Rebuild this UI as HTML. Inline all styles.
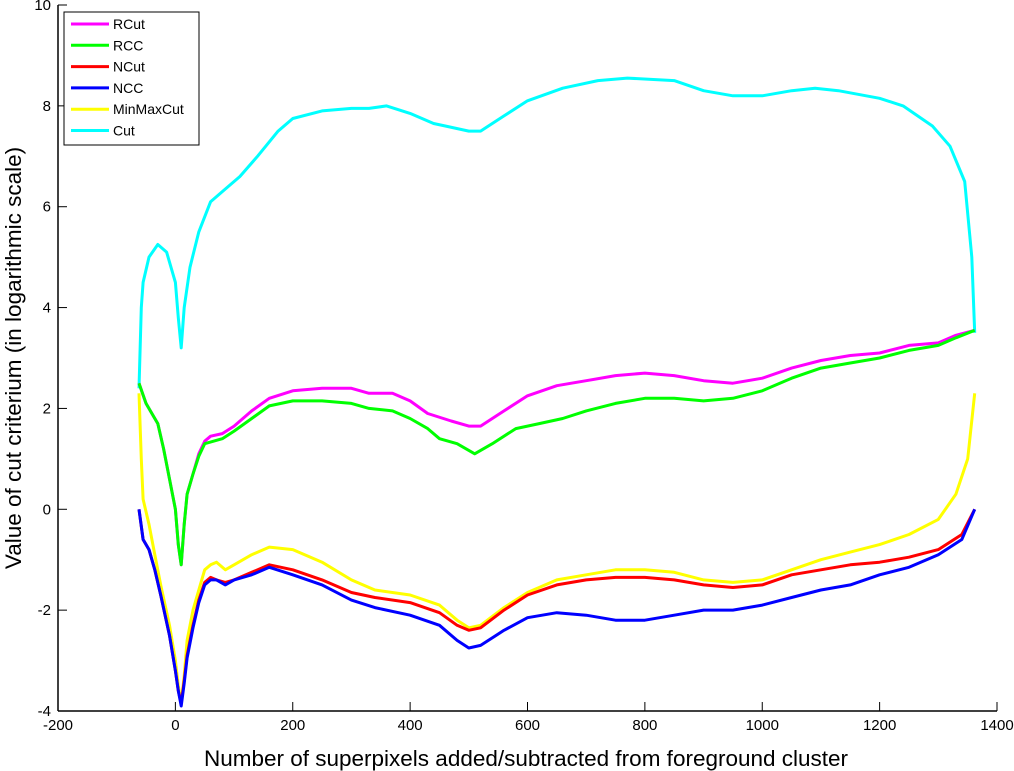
<!DOCTYPE html>
<html><head><meta charset="utf-8">
<style>
html,body{margin:0;padding:0;background:#fff;}
svg{display:block;font-family:"Liberation Sans",sans-serif;}
</style></head>
<body>
<svg id="chart" width="1014" height="771" viewBox="0 0 1014 771">
<g id="axes"></g>
<g id="series"></g>
<text x="526" y="766" font-size="22.5" text-anchor="middle">Number of superpixels added/subtracted from foreground cluster</text>
<text transform="translate(21,358) rotate(-90)" font-size="22.5" text-anchor="middle">Value of cut criterium (in logarithmic scale)</text>
<g id="legend"></g>
</svg>
<script>
const xTicks=[-200,0,200,400,600,800,1000,1200,1400];
const yTicks=[-4,-2,0,2,4,6,8,10];
const names=["RCut","RCC","NCut","NCC","MinMaxCut","Cut"];
const colors=["#ff00ff","#00ff00","#ff0000","#0000ff","#ffff00","#00ffff"];

const cutX=[-62,-58,-55,-45,-30,-15,0,5,10,15,25,40,60,80,110,140,175,200,250,300,330,360,400,440,460,500,520,560,600,660,720,770,850,900,950,1000,1050,1090,1130,1200,1240,1290,1320,1345,1357,1362];
const cutY=[2.4,4.0,4.5,5.0,5.25,5.1,4.5,3.8,3.2,4.0,4.8,5.5,6.1,6.3,6.6,7.0,7.5,7.75,7.9,7.95,7.95,8.0,7.85,7.65,7.6,7.5,7.5,7.8,8.1,8.35,8.5,8.55,8.5,8.3,8.2,8.2,8.3,8.35,8.3,8.15,8.0,7.6,7.2,6.5,5.0,3.5];

const rcutX=[-62,-50,-40,-30,-20,-10,0,5,10,15,20,30,40,50,60,80,100,130,160,200,250,300,330,370,400,430,470,500,520,560,600,650,700,750,800,850,900,950,1000,1050,1100,1150,1200,1250,1300,1330,1362];
const rcutY=[2.5,2.1,1.9,1.7,1.2,0.6,0.0,-0.7,-1.1,-0.3,0.3,0.7,1.1,1.35,1.45,1.5,1.65,1.95,2.2,2.35,2.4,2.4,2.3,2.3,2.15,1.9,1.75,1.65,1.65,1.95,2.25,2.45,2.55,2.65,2.7,2.65,2.55,2.5,2.6,2.8,2.95,3.05,3.1,3.25,3.3,3.45,3.55];

const rccX=[-62,-50,-40,-30,-20,-10,0,5,10,15,20,30,40,50,80,100,130,160,200,250,300,330,370,400,430,450,480,510,540,580,620,660,700,750,800,850,900,950,1000,1050,1100,1150,1200,1250,1300,1330,1362];
const rccY=[2.5,2.1,1.9,1.7,1.2,0.6,0.0,-0.7,-1.1,-0.3,0.3,0.7,1.05,1.3,1.4,1.55,1.8,2.05,2.15,2.15,2.1,2.0,1.95,1.8,1.6,1.4,1.3,1.1,1.3,1.6,1.7,1.8,1.95,2.1,2.2,2.2,2.15,2.2,2.35,2.6,2.8,2.9,3.0,3.15,3.25,3.4,3.55];

const ncutX=[-62,-55,-45,-35,-25,-10,0,5,10,15,20,30,40,50,60,70,85,100,130,160,200,250,300,340,400,450,480,500,520,560,600,650,700,750,800,850,900,950,1000,1050,1100,1150,1200,1250,1300,1340,1362];
const ncutY=[0.0,-0.6,-0.8,-1.2,-1.7,-2.5,-3.2,-3.6,-3.85,-3.4,-2.9,-2.3,-1.8,-1.45,-1.35,-1.4,-1.45,-1.4,-1.25,-1.1,-1.2,-1.4,-1.65,-1.75,-1.85,-2.05,-2.3,-2.4,-2.35,-2.0,-1.7,-1.5,-1.4,-1.35,-1.35,-1.4,-1.5,-1.55,-1.5,-1.3,-1.2,-1.1,-1.05,-0.95,-0.8,-0.5,0.0];

const nccX=[-62,-55,-45,-35,-25,-10,0,5,10,15,20,30,40,50,60,70,85,100,130,160,200,250,300,340,400,450,480,500,520,560,600,650,700,750,800,850,900,950,1000,1050,1100,1150,1200,1250,1300,1340,1362];
const nccY=[0.0,-0.6,-0.8,-1.2,-1.7,-2.5,-3.2,-3.6,-3.9,-3.45,-2.95,-2.35,-1.85,-1.5,-1.4,-1.4,-1.5,-1.4,-1.3,-1.15,-1.3,-1.5,-1.8,-1.95,-2.1,-2.3,-2.6,-2.75,-2.7,-2.4,-2.15,-2.05,-2.1,-2.2,-2.2,-2.1,-2.0,-2.0,-1.9,-1.75,-1.6,-1.5,-1.3,-1.15,-0.9,-0.6,0.0];

const mmcX=[-62,-58,-55,-45,-35,-25,-10,0,5,10,15,20,30,40,50,60,70,85,100,130,160,200,250,300,340,400,450,480,500,520,560,600,650,700,750,800,850,900,950,1000,1050,1100,1150,1200,1250,1300,1330,1350,1362];
const mmcY=[2.3,1.0,0.2,-0.3,-0.9,-1.5,-2.3,-3.0,-3.5,-3.85,-3.3,-2.6,-2.0,-1.6,-1.2,-1.1,-1.05,-1.2,-1.1,-0.9,-0.75,-0.8,-1.05,-1.4,-1.6,-1.7,-1.9,-2.2,-2.35,-2.3,-1.95,-1.65,-1.4,-1.3,-1.2,-1.2,-1.25,-1.4,-1.45,-1.4,-1.2,-1.0,-0.85,-0.7,-0.5,-0.2,0.3,1.0,2.3];

const NS="http://www.w3.org/2000/svg";
const L=58,R=997,T=5,B=711;
const xMin=-200,xMax=1400,yMin=-4,yMax=10;
function sx(v){return L+(v-xMin)/(xMax-xMin)*(R-L);}
function sy(v){return B-(v-yMin)/(yMax-yMin)*(B-T);}
function mk(tag,attrs,parent){const e=document.createElementNS(NS,tag);for(const k in attrs)e.setAttribute(k,attrs[k]);parent.appendChild(e);return e;}

const axes=document.getElementById('axes');
let a=mk('line',{x1:L,y1:B,x2:R,y2:B,stroke:'#000','stroke-width':1.5},axes);


a=mk('line',{x1:L,y1:T,x2:L,y2:B,stroke:'#000','stroke-width':1.5},axes);


xTicks.forEach(v=>{
  const t=mk('line',{x1:sx(v),y1:B,x2:sx(v),y2:B-9,stroke:'#000','stroke-width':1},axes);
  
  
  const tx=mk('text',{x:sx(v),y:B+19,'font-size':15,'text-anchor':'middle'},axes);
  tx.textContent=v;
  
  
});
yTicks.forEach(v=>{
  const t=mk('line',{x1:L,y1:sy(v),x2:L+9,y2:sy(v),stroke:'#000','stroke-width':1},axes);
  
  
  const tx=mk('text',{x:L-7,y:sy(v)+5,'font-size':15,'text-anchor':'end'},axes);
  tx.textContent=v;
  
  
});

const seriesX=[rcutX,rccX,ncutX,nccX,mmcX,cutX];
const seriesY=[rcutY,rccY,ncutY,nccY,mmcY,cutY];
const order=[5,4,0,1,2,3];
const sg=document.getElementById('series');
order.forEach(i=>{
  const pts=seriesX[i].map((x,j)=>sx(x).toFixed(1)+','+sy(seriesY[i][j]).toFixed(1)).join(' ');
  const p=mk('polyline',{points:pts,fill:'none',stroke:colors[i],'stroke-width':3,'stroke-linejoin':'round'},sg);
  
  
});

const lg=document.getElementById('legend');
const box=mk('rect',{x:64,y:12,width:135,height:133,fill:'#fff',stroke:'#000','stroke-width':1},lg);


names.forEach((n,i)=>{
  const y=24+i*21.3;
  const ln=mk('line',{x1:71,y1:y,x2:109,y2:y,stroke:colors[i],'stroke-width':3},lg);
  
  
  const tx=mk('text',{x:113,y:y+5,'font-size':14},lg);
  tx.textContent=n;
  
  
});
</script>
</body></html>
